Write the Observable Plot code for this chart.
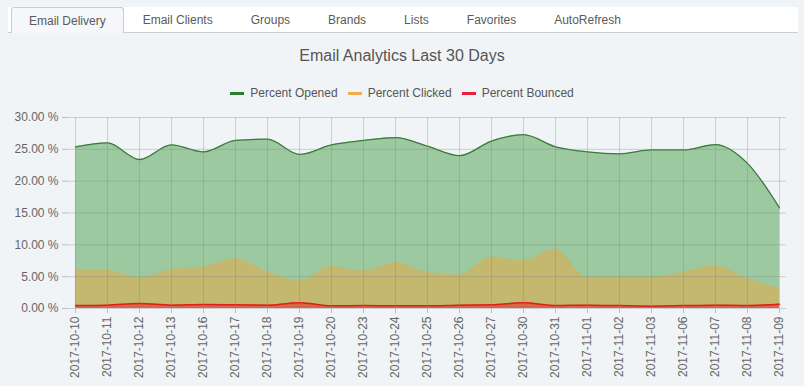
<!DOCTYPE html>
<html>
<head>
<meta charset="utf-8">
<script src="https://cdn.jsdelivr.net/npm/d3@7"></script>
<script src="https://cdn.jsdelivr.net/npm/@observablehq/plot@0.6"></script>
<style>
  html, body { margin:0; padding:0; }
  body { width:804px; height:386px; background:#f1f4f7; position:relative; overflow:hidden; font-family:"Liberation Sans", Arial, sans-serif; }
  #tabs { position:absolute; left:8px; top:7px; width:790px; height:25px; background:#fff; border-bottom:1px solid #c9ced6; display:flex; align-items:stretch; }
  #tabs .tab { padding:0 19px; font-size:12px; color:#5a5a5a; display:flex; align-items:center; box-sizing:border-box; }
  #tabs .tab.active { background:#f5f7fa; border:1px solid #c9ced6; border-bottom:none; border-radius:3px 3px 0 0; margin-left:3px; padding:0 17px 0 17px; height:26px; }
  #title { position:absolute; left:0; width:804px; top:47px; text-align:center; font-size:16px; color:#555; }
  #legend { position:absolute; left:0; width:804px; top:86px; display:flex; justify-content:center; font-size:12px; color:#555; gap:0; }
  #legend .item { display:flex; align-items:center; margin:0 5px; }
  #legend .sw { width:14px; height:3px; margin-right:6px; }
  #chart { position:absolute; left:0; top:100px; }
  #chart svg { display:block; }
</style>
</head>
<body>
<div id="tabs"></div>
<div id="title">Email Analytics Last 30 Days</div>
<div id="legend"></div>
<div id="chart"></div>
<script>
const tabs = ["Email Delivery","Email Clients","Groups","Brands","Lists","Favorites","AutoRefresh"];
const seriesNames = ["Percent Opened","Percent Clicked","Percent Bounced"];
const dates = ["2017-10-10","2017-10-11","2017-10-12","2017-10-13","2017-10-16","2017-10-17","2017-10-18","2017-10-19","2017-10-20","2017-10-23","2017-10-24","2017-10-25","2017-10-26","2017-10-27","2017-10-30","2017-10-31","2017-11-01","2017-11-02","2017-11-03","2017-11-06","2017-11-07","2017-11-08","2017-11-09"];
const opened = [25.4,26.0,23.4,25.7,24.6,26.4,26.6,24.2,25.7,26.4,26.85,25.5,24.0,26.3,27.3,25.4,24.6,24.3,24.9,24.9,25.75,22.8,15.8];
const clicked = [6.0,6.0,4.8,6.1,6.5,7.8,5.8,4.3,6.6,5.9,7.2,5.7,5.3,8.1,7.5,9.3,4.9,4.9,4.9,5.7,6.7,4.7,3.1];
const bounced = [0.47,0.53,0.79,0.53,0.63,0.58,0.53,0.9,0.42,0.47,0.42,0.42,0.53,0.58,0.9,0.47,0.53,0.47,0.37,0.47,0.53,0.47,0.68];
const yTicks = [0,5,10,15,20,25,30];

const swatchColors = ["#2e7d32","#f0ad4e","#e8203a"];

const tabsEl = document.getElementById("tabs");
tabs.forEach((t,i) => {
  const d = document.createElement("div");
  d.className = "tab" + (i===0 ? " active" : "");
  d.textContent = t;
  tabsEl.appendChild(d);
});
const legendEl = document.getElementById("legend");
seriesNames.forEach((n,i) => {
  const it = document.createElement("div");
  it.className = "item";
  const sw = document.createElement("span");
  sw.className = "sw";
  sw.style.background = swatchColors[i];
  const tx = document.createElement("span");
  tx.textContent = n;
  it.appendChild(sw); it.appendChild(tx);
  legendEl.appendChild(it);
});

const data = dates.map((d,i) => ({date:d, opened:opened[i], clicked:clicked[i], bounced:bounced[i]}));

const chart = Plot.plot({
  width: 804, height: 286,
  marginTop: 17, marginBottom: 78, marginLeft: 67, marginRight: 18,
  style: {background:"transparent", fontFamily:"Liberation Sans, Arial, sans-serif", fontSize:"12px", color:"#666"},
  x: {type:"point", domain: dates, padding: 0, range:[67, 786], label:null},
  y: {domain:[0,30], range:[208, 17], label:null},
  marks: [
    Plot.areaY(data, {x:"date", y:"opened", curve:"monotone-x", fill:"#4a9e4a", fillOpacity:0.5}),
    Plot.lineY(data, {x:"date", y:"opened", curve:"monotone-x", stroke:"#3a7a3a", strokeWidth:1.3}),
    Plot.areaY(data, {x:"date", y:"clicked", curve:"monotone-x", fill:"#eba53c", fillOpacity:0.5}),
    Plot.areaY(data, {x:"date", y:"bounced", curve:"monotone-x", fill:"#e8302a", fillOpacity:0.6}),
    Plot.lineY(data, {x:"date", y:"bounced", curve:"monotone-x", stroke:"#dc2020", strokeWidth:1.5}),
    Plot.gridX(dates, {stroke:"#7d8794", strokeOpacity:0.35}),
    Plot.gridY(yTicks, {stroke:"#7d8794", strokeOpacity:0.35}),
    Plot.axisX(dates, {tickRotate:-90, tickSize:5, tickPadding:3, stroke:"#b8bec8", fill:"#666", label:null}),
    Plot.axisY(yTicks, {tickSize:5, tickPadding:4, stroke:"#b8bec8", fill:"#666", tickFormat: d => d.toFixed(2) + " %", label:null})
  ]
});
document.getElementById("chart").appendChild(chart);
</script>
</body>
</html>
